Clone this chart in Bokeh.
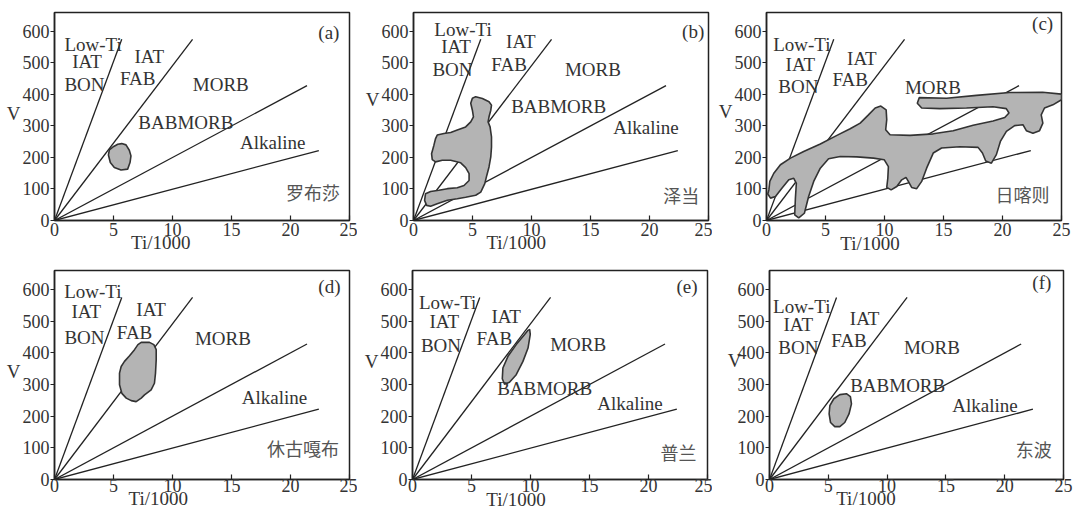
from bokeh.plotting import figure
from bokeh.models import Range1d, Label, FixedTicker
from bokeh.layouts import row, column
from bokeh.embed import file_html
from bokeh.resources import INLINE

SERIF = "Liberation Serif"
CJK = "Noto Sans CJK SC"
INK = "#222222"
TXT = "#333333"

# ---------------- data ----------------
TI_TICKS = [0, 5, 10, 15, 20, 25]
V_TICKS = [0, 100, 200, 300, 400, 500, 600]
TI_RANGE = (0, 25)
V_RANGE = (0, 660)

# discriminant lines Ti/V = 10, 20, 50, 100 (from origin to these end points)
LINE_END_TI = [5.7, 11.7, 21.4, 22.4]
LINE_END_V = [575, 575, 428, 222]

PANEL_TAGS = ["(a)", "(b)", "(c)", "(d)", "(e)", "(f)"]
SITES = ["罗布莎", "泽当", "日喀则", "休古嘎布", "普兰", "东波"]

poly_a_ti = [5.70, 6.06, 6.34, 6.48, 6.40, 6.20, 5.64, 5.07, 4.73, 4.57, 4.65, 5.02, 5.36]
poly_a_v = [244, 240, 223, 205, 184, 163, 160, 168, 184, 208, 224, 235, 242]

poly_b_ti = [5.27, 5.84, 6.40, 6.61, 6.55, 6.40, 6.32, 6.49, 6.61, 6.61,
             6.55, 6.40, 6.21, 6.04, 5.70, 5.27, 4.42, 3.71, 2.87, 2.01,
             1.45, 1.11, 0.94, 1.02, 1.45, 2.15, 2.87, 3.71, 4.28, 4.71,
             4.71, 4.42, 4.00, 3.15, 2.44, 1.87, 1.59, 1.53, 1.73, 1.87,
             2.01, 2.58, 3.15, 3.71, 4.42, 4.85, 5.08, 4.99, 4.85, 4.99]
poly_b_v = [393, 387, 377, 366, 350, 329, 313, 297, 265, 233,
            202, 170, 143, 117, 90, 80, 74, 69, 64, 53,
            45, 48, 64, 85, 92, 96, 101, 104, 111, 127,
            149, 168, 183, 191, 191, 186, 193, 212, 239, 260,
            271, 276, 279, 287, 297, 313, 329, 350, 372, 388]

poly_c_ti = [0.20, 0.28, 0.62, 1.18, 2.03, 3.15, 4.56, 5.97, 7.09, 7.94,
             8.64, 9.21, 9.69, 10.14, 10.19, 10.10, 10.47, 12.16, 14.13, 15.82,
             17.51, 19.2, 20.19, 20.55, 20.32, 19.2, 16.95, 14.7, 13.15, 12.78,
             12.95, 15.26, 17.8, 20.6, 23.4, 25.0, 25.0, 24.27, 23.56, 23.28,
             23.42, 23.14, 22.58, 22.02, 21.73, 21.03, 20.33, 19.82, 19.48, 19.06,
             18.58, 18.3, 17.93, 16.39, 14.84, 14.13, 13.57, 13.15, 12.73, 12.3,
             12.02, 11.82, 11.46, 11.04, 10.56, 10.19, 10.28, 10.33, 9.97, 9.06,
             7.66, 6.25, 5.26, 4.56, 4.0, 3.57, 3.21, 2.73, 2.39, 2.45,
             2.53, 2.31, 1.89, 1.32, 0.76, 0.34, 0.11]
poly_c_v = [97, 124, 150, 177, 198, 219, 243, 270, 291, 309,
            335, 357, 363, 351, 320, 288, 272, 270, 275, 285,
            302, 316, 327, 341, 355, 361, 357, 355, 357, 372,
            390, 388, 397, 406, 407, 401, 383, 367, 357, 335,
            309, 285, 277, 285, 304, 301, 283, 251, 209, 182,
            189, 214, 232, 234, 230, 214, 166, 124, 101, 105,
            124, 137, 129, 108, 97, 105, 134, 171, 193, 198,
            202, 203, 196, 166, 124, 76, 23, 8, 18, 71,
            118, 134, 129, 103, 76, 71, 84]

poly_d_ti = [7.35, 8.05, 8.42, 8.62, 8.62, 8.56, 8.47, 8.19, 7.63, 7.35, 6.92,
             6.50, 6.08, 5.71, 5.51, 5.51, 5.65, 5.93, 6.36, 6.78, 7.07]
poly_d_v = [433, 433, 426, 410, 378, 336, 304, 283, 267, 257, 246,
            249, 257, 272, 299, 336, 357, 373, 391, 410, 426]

poly_e_ti = [9.93, 9.98, 9.79, 9.36, 8.79, 8.22, 7.80, 7.61, 7.66, 8.09, 8.79, 9.50, 9.79]
poly_e_v = [474, 458, 415, 373, 331, 307, 301, 318, 352, 389, 426, 458, 471]

poly_f_ti = [6.54, 6.88, 6.97, 6.76, 6.40, 5.98, 5.55, 5.19, 5.07, 5.13, 5.47, 5.98]
poly_f_v = [271, 262, 239, 207, 180, 167, 167, 180, 207, 233, 255, 268]

POLYS = [(poly_a_ti, poly_a_v), (poly_b_ti, poly_b_v), (poly_c_ti, poly_c_v),
         (poly_d_ti, poly_d_v), (poly_e_ti, poly_e_v), (poly_f_ti, poly_f_v)]

# ---------------- placement of texts (data coords) ----------------
FIELD_LABELS = [
    [("Low-Ti", 3.27, 560), ("IAT", 2.76, 505), ("BON", 2.54, 432), ("IAT", 8.03, 521),
     ("FAB", 7.05, 451), ("MORB", 14.09, 432), ("BABMORB", 11.13, 310), ("Alkaline", 18.5, 247)],
    [("Low-Ti", 4.2, 607), ("IAT", 3.6, 552), ("BON", 3.3, 479), ("IAT", 9.1, 569),
     ("FAB", 8.1, 495), ("MORB", 15.2, 479), ("BABMORB", 12.3, 361), ("Alkaline", 19.7, 294)],
    [("Low-Ti", 3.0, 558), ("IAT", 2.87, 494), ("BON", 2.7, 425), ("IAT", 8.08, 515),
     ("FAB", 7.09, 447), ("MORB", 14.1, 422)],
    [("Low-Ti", 3.25, 595), ("IAT", 2.69, 531), ("BON", 2.54, 447), ("IAT", 8.19, 537),
     ("FAB", 6.78, 463), ("MORB", 14.27, 444), ("Alkaline", 18.64, 260)],
    [("Low-Ti", 2.98, 558), ("IAT", 2.69, 500), ("BON", 2.41, 424), ("IAT", 7.94, 516),
     ("FAB", 6.94, 445), ("MORB", 14.04, 426), ("BABMORB", 11.2, 288), ("Alkaline", 18.43, 241)],
    [("Low-Ti", 2.74, 546), ("IAT", 2.45, 488), ("BON", 2.45, 417), ("IAT", 8.09, 510),
     ("FAB", 6.76, 440), ("MORB", 13.81, 417), ("BABMORB", 10.9, 297), ("Alkaline", 18.32, 233)],
]
TAG_POS = [(23.25, 595), (23.7, 600), (23.4, 626), (23.3, 609), (23.26, 611), (23.16, 621)]
SITE_POS = [(21.9, 89), (22.7, 80), (21.7, 83), (21.05, 98), (22.55, 87), (22.46, 96)]
# "V" label: x in px within the left side panel, y in data units
VLAB_POS = [(8, 340), (8, 383), (8, 346), (8, 341), (8, 373), (14, 377)]
# "Ti/1000" label: x in data units, y in px within the bottom side panel
XLAB_POS = [(9.0, 17), (8.7, 17), (8.77, 16), (8.8, 17), (8.77, 16), (8.2, 17)]

GEOM = [
    dict(w=357, h=260, l=54, r=8, t=12, b=40, so=2),
    dict(w=355, h=260, l=56, r=4, t=12, b=40, so=2),
    dict(w=361, h=260, l=54, r=12, t=12, b=40, so=2),
    dict(w=357, h=261, l=54, r=8, t=10, b=42, so=-1),
    dict(w=355, h=261, l=55, r=5, t=10, b=42, so=-1),
    dict(w=361, h=261, l=57, r=10, t=10, b=42, so=-1),
]


def make_panel(i):
    g = GEOM[i]
    p = figure(width=g["w"], height=g["h"],
               x_range=Range1d(*TI_RANGE), y_range=Range1d(*V_RANGE),
               output_backend="svg", toolbar_location=None,
               min_border_left=g["l"], min_border_right=g["r"],
               min_border_top=g["t"], min_border_bottom=g["b"])
    p.grid.visible = False
    p.background_fill_color = "white"
    p.border_fill_color = "white"
    p.outline_line_color = INK
    p.outline_line_width = 1.5
    p.outline_line_alpha = 1.0

    p.xaxis.ticker = FixedTicker(ticks=TI_TICKS)
    p.yaxis.ticker = FixedTicker(ticks=V_TICKS)
    p.axis.minor_tick_line_color = None
    p.axis.axis_line_color = INK
    p.axis.axis_line_width = 1.5
    p.axis.major_tick_line_color = INK
    p.axis.major_tick_line_width = 1.2
    p.xaxis.major_tick_in = 5
    p.xaxis.major_tick_out = 0
    p.yaxis.major_tick_in = 0
    p.yaxis.major_tick_out = 4
    p.xaxis.major_label_standoff = g["so"]
    p.yaxis.major_label_standoff = 1
    p.axis.major_label_text_font = SERIF
    p.axis.major_label_text_font_size = "18px"
    p.axis.major_label_text_color = TXT

    n = len(LINE_END_TI)
    p.segment(x0=[0] * n, y0=[0] * n, x1=LINE_END_TI, y1=LINE_END_V,
              line_color=INK, line_width=1.3)

    xs, ys = POLYS[i]
    p.patch(xs, ys, fill_color="#b4b4b4", line_color="#333333", line_width=1.6)

    for text, x, y in FIELD_LABELS[i]:
        p.add_layout(Label(x=x, y=y, text=text, text_font=SERIF, text_font_size="19px",
                           text_color=TXT, text_align="center", text_baseline="middle"))
    tx, ty = TAG_POS[i]
    p.add_layout(Label(x=tx, y=ty, text=PANEL_TAGS[i], text_font=SERIF, text_font_size="19px",
                       text_color=TXT, text_align="center", text_baseline="middle"))
    sx, sy = SITE_POS[i]
    p.add_layout(Label(x=sx, y=sy, text=SITES[i], text_font=CJK, text_font_size="18px",
                       text_color="#555555", text_align="center", text_baseline="middle"))
    vx, vy = VLAB_POS[i]
    p.add_layout(Label(x=vx, y=vy, x_units="screen", y_units="data", text="V",
                       text_font=SERIF, text_font_size="19px",
                       text_color=TXT, text_align="center", text_baseline="middle"), "left")
    lx, ly = XLAB_POS[i]
    p.add_layout(Label(x=lx, y=ly, x_units="data", y_units="screen", text="Ti/1000",
                       text_font=SERIF, text_font_size="19px",
                       text_color=TXT, text_align="center", text_baseline="middle"), "below")
    return p


panels = [make_panel(i) for i in range(6)]
layout = column(row(*panels[:3]), row(*panels[3:]))

open("out.html", "w").write(file_html(layout, INLINE))
